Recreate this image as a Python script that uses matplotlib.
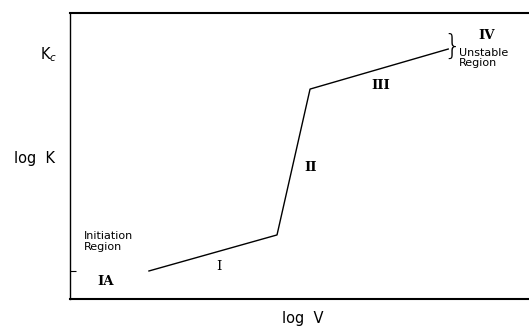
import matplotlib
matplotlib.use("Agg")
import matplotlib.pyplot as plt

# data (arbitrary units, log V vs log K schematic)
log_v = [1.72, 4.51, 5.23, 8.24]
log_k = [0.98, 2.24, 7.34, 8.74]
region_labels = ["IA", "I", "II", "III", "IV"]
region_x = [0.77, 3.25, 5.25, 6.77, 9.08]
region_y = [0.62, 1.13, 4.6, 7.45, 9.22]

fig = plt.figure(figsize=(5.29, 3.30), dpi=100)
ax = fig.add_axes([70/529, 31/330, 459/529, 286/330])
ax.set_xlim(0, 10)
ax.set_ylim(0, 10)
ax.plot(log_v, log_k, color="black", lw=1.0)

ax.spines["right"].set_visible(False)
ax.spines["top"].set_linewidth(1.5)
ax.spines["bottom"].set_linewidth(1.5)
ax.spines["left"].set_linewidth(1.0)

ax.set_xticks([])
ax.set_yticks([log_k[0]])
ax.set_yticklabels([""])
ax.tick_params(axis="y", direction="in", length=4, width=0.8)

for lab, x, y in zip(region_labels, region_x, region_y):
    ax.text(x, y, lab, ha="center", va="center", family="DejaVu Serif",
            fontsize=9.5, fontweight="bold" if lab != "I" else "normal")

ax.text(0.3, 2.0, "Initiation\nRegion", ha="left", va="center", fontsize=8,
        linespacing=1.1)
ax.text(8.48, 8.43, "Unstable\nRegion", ha="left", va="center", fontsize=8,
        linespacing=1.1)
ax.text(8.32, 8.81, "}", ha="center", va="center", fontsize=20,
        family="DejaVu Sans", fontweight="light")

fig.text(57/529, 1 - 55/330, "K$_c$", ha="right", va="center", fontsize=10.5)
fig.text(35/529, 1 - 158/330, "log  K", ha="center", va="center", fontsize=10.5)
fig.text(303/529, 1 - 318/330, "log  V", ha="center", va="center", fontsize=10.5)

fig.savefig("out.png", dpi=100)
